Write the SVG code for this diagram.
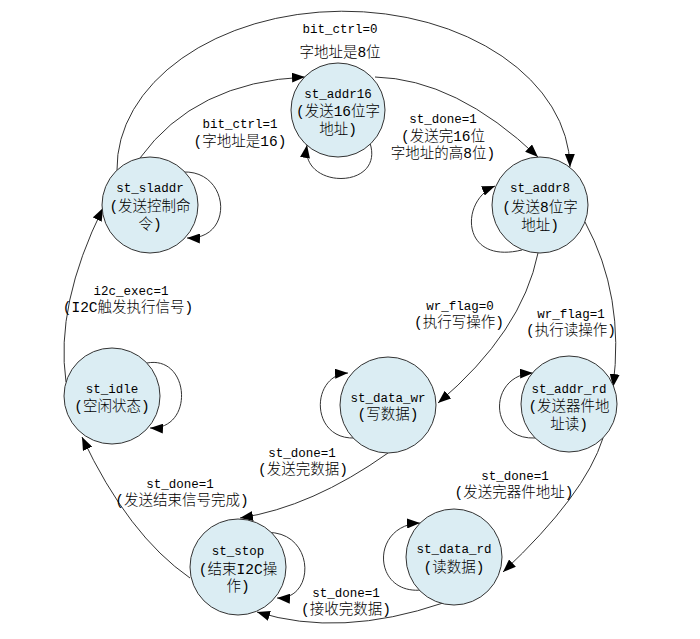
<svg xmlns="http://www.w3.org/2000/svg" width="700" height="639" viewBox="0 0 700 639">
<style>
  .node circle { fill: #dbedf3; stroke: #333; stroke-width: 1; }
  .e { fill: none; stroke: #333; stroke-width: 1; marker-end: url(#arr); }
  text { fill: #000; text-anchor: middle; }
  .t { font-family: "Liberation Mono", "Noto Sans CJK SC", monospace; font-size: 12.5px; }
  .c { font-family: "Liberation Mono", "Noto Sans CJK SC", monospace; font-size: 14.5px; font-weight: 300; }
</style>
<defs>
  <marker id="arr" markerUnits="userSpaceOnUse" markerWidth="13" markerHeight="10" refX="13" refY="5" orient="auto">
    <path d="M0,0 L13,5 L0,10 z" fill="#000"/>
  </marker>
</defs>
<rect width="700" height="639" fill="#fff"/>

<g id="connectors">
  <!-- st_sladdr -> st_addr16 -->
  <path class="e" d="M140,158 Q195,82 305,77"/>
  <!-- st_sladdr -> st_addr8 (big arc) -->
  <path class="e" d="M117,170 A226 157 0 0 1 570,167"/>
  <!-- st_addr16 -> st_addr8 -->
  <path class="e" d="M375,77 Q456,79 538,157"/>
  <!-- st_addr8 -> st_data_wr -->
  <path class="e" d="M538,253 Q522,332 438,403"/>
  <!-- st_addr8 -> st_addr_rd -->
  <path class="e" d="M585,222 Q625,296 613,387"/>
  <!-- st_addr_rd -> st_data_rd -->
  <path class="e" d="M603,438 Q585,495 503,572"/>
  <!-- st_data_rd -> st_stop -->
  <path class="e" d="M443,603 Q340,638 257,612"/>
  <!-- st_data_wr -> st_stop -->
  <path class="e" d="M388,453 Q312,507 240,518"/>
  <!-- st_stop -> st_idle -->
  <path class="e" d="M190,578 Q128,535 82,437"/>
  <!-- st_idle -> st_sladdr -->
  <path class="e" d="M66,382 Q55,305 103,208"/>
  <!-- self loops -->
  <path class="e" d="M183,172 C230,170 235,240 187,238"/>
  <path class="e" d="M370,143 C385,190 300,190 307,145"/>
  <path class="e" d="M522,250 C460,265 460,200 495,186"/>
  <path class="e" d="M147,363 C190,355 195,430 150,428"/>
  <path class="e" d="M355,438 C310,440 310,375 348,373"/>
  <path class="e" d="M535,438 C488,440 488,375 533,373"/>
  <path class="e" d="M260,533 C315,525 318,600 277,598"/>
  <path class="e" d="M422,590 C372,595 370,525 420,523"/>
</g>

<g id="labels">
  <text class="t" x="340" y="33">bit_ctrl=0</text>
  <text class="c" x="340" y="57">字地址是8位</text>
  <text class="t" x="240" y="128">bit_ctrl=1</text>
  <text class="c" x="240" y="146">(字地址是16)</text>
  <text class="t" x="443" y="123">st_done=1</text>
  <text class="c" x="443" y="141">(发送完16位</text>
  <text class="c" x="443" y="158">字地址的高8位)</text>
  <text class="t" x="460" y="310">wr_flag=0</text>
  <text class="c" x="459" y="327">(执行写操作)</text>
  <text class="t" x="571" y="318">wr_flag=1</text>
  <text class="c" x="571" y="335">(执行读操作)</text>
  <text class="t" x="131" y="295">i2c_exec=1</text>
  <text class="c" x="128" y="312">(I2C触发执行信号)</text>
  <text class="t" x="180" y="488">st_done=1</text>
  <text class="c" x="182" y="505">(发送结束信号完成)</text>
  <text class="t" x="302" y="457">st_done=1</text>
  <text class="c" x="303" y="474">(发送完数据)</text>
  <text class="t" x="515" y="480">st_done=1</text>
  <text class="c" x="514" y="497">(发送完器件地址)</text>
  <text class="t" x="346" y="597">st_done=1</text>
  <text class="c" x="346" y="614">(接收完数据)</text>
</g>

<g id="st_addr16" class="node">
  <circle cx="338" cy="110" r="47"/>
  <text class="t" x="338" y="98">st_addr16</text>
  <text class="c" x="338" y="116">(发送16位字</text>
  <text class="c" x="338" y="134">地址)</text>
</g>
<g id="st_sladdr" class="node">
  <circle cx="150" cy="205" r="48"/>
  <text class="t" x="150" y="192">st_sladdr</text>
  <text class="c" x="150" y="211">(发送控制命</text>
  <text class="c" x="150" y="229">令)</text>
</g>
<g id="st_addr8" class="node">
  <circle cx="540" cy="205" r="48"/>
  <text class="t" x="540" y="192">st_addr8</text>
  <text class="c" x="540" y="212">(发送8位字</text>
  <text class="c" x="540" y="230">地址)</text>
</g>
<g id="st_idle" class="node">
  <circle cx="112" cy="396" r="48"/>
  <text class="t" x="112" y="393">st_idle</text>
  <text class="c" x="112" y="411">(空闲状态)</text>
</g>
<g id="st_data_wr" class="node">
  <circle cx="388" cy="405" r="48"/>
  <text class="t" x="388" y="402">st_data_wr</text>
  <text class="c" x="388" y="419">(写数据)</text>
</g>
<g id="st_addr_rd" class="node">
  <circle cx="569" cy="404" r="48"/>
  <text class="t" x="569" y="393">st_addr_rd</text>
  <text class="c" x="569" y="411">(发送器件地</text>
  <text class="c" x="569" y="429">址读)</text>
</g>
<g id="st_stop" class="node">
  <circle cx="238" cy="567" r="48"/>
  <text class="t" x="238" y="555">st_stop</text>
  <text class="c" x="238" y="574">(结束I2C操</text>
  <text class="c" x="238" y="591">作)</text>
</g>
<g id="st_data_rd" class="node">
  <circle cx="454" cy="557" r="48"/>
  <text class="t" x="454" y="553">st_data_rd</text>
  <text class="c" x="454" y="572">(读数据)</text>
</g>
</svg>
